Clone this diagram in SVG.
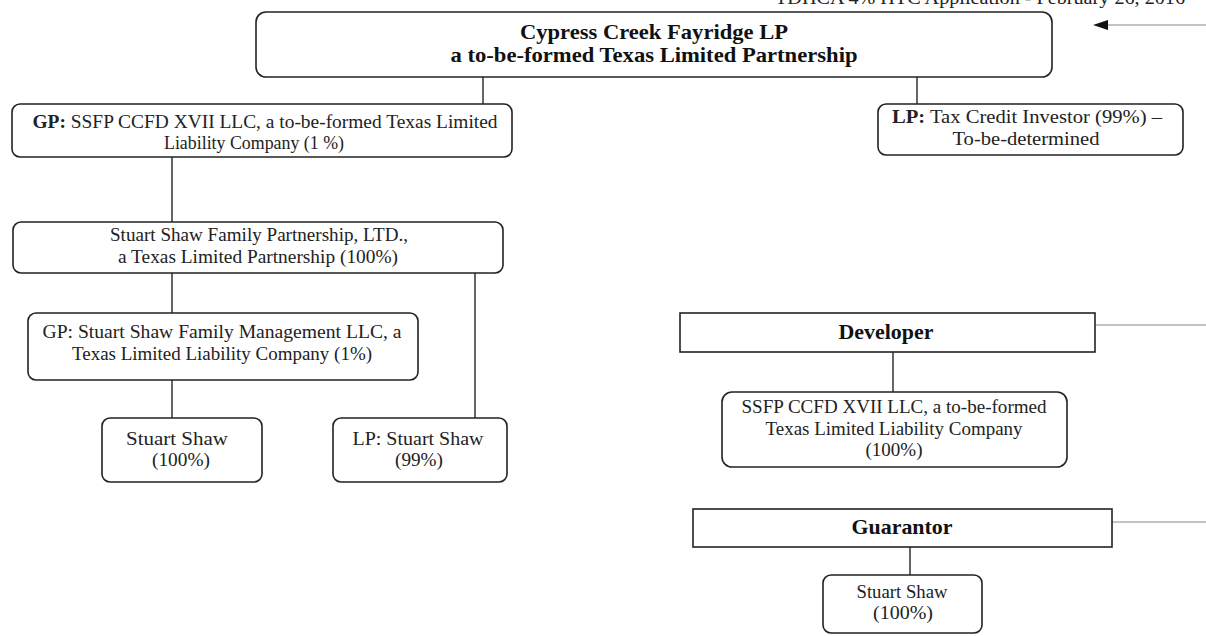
<svg xmlns="http://www.w3.org/2000/svg" width="1206" height="636" viewBox="0 0 1206 636">
<style>
.box{fill:#fff;stroke:#222;stroke-width:1.6}
.t{font-family:"Liberation Serif","Times New Roman",serif;font-size:19px;fill:#222;text-anchor:middle}
.b{font-weight:bold}
.title{font-family:"Liberation Serif","Times New Roman",serif;font-size:21px;font-weight:bold;fill:#111;text-anchor:middle}
.c{stroke:#333;stroke-width:1.5;fill:none}
.g{stroke:#888;stroke-width:1;fill:none}
</style>
<rect width="1206" height="636" fill="#fff"/>
<text class="t" x="980" y="4" textLength="410" lengthAdjust="spacingAndGlyphs">TDHCA 4% HTC Application - February 26, 2016</text>
<g id="connectors">
<line class="c" x1="483" y1="77" x2="483" y2="104"/>
<line class="c" x1="917" y1="77" x2="917" y2="104"/>
<line class="c" x1="172" y1="157" x2="172" y2="222"/>
<line class="c" x1="172" y1="273" x2="172" y2="313"/>
<line class="c" x1="475" y1="273" x2="475" y2="418"/>
<line class="c" x1="172" y1="380" x2="172" y2="418"/>
<line class="c" x1="893" y1="352" x2="893" y2="392"/>
<line class="c" x1="910" y1="547" x2="910" y2="575"/>
<line class="g" x1="1206" y1="25" x2="1106" y2="25"/>
<polygon points="1093,25 1108,20 1108,30" fill="#111"/>
<line class="g" x1="1095" y1="325" x2="1206" y2="325"/>
<line class="g" x1="1112" y1="522" x2="1206" y2="522"/>
</g>
<g id="top">
<rect class="box" x="256" y="12" width="796" height="65" rx="10"/>
<text class="title" x="654" y="39" textLength="268" lengthAdjust="spacingAndGlyphs">Cypress Creek Fayridge LP</text>
<text class="title" x="654" y="62" textLength="407" lengthAdjust="spacingAndGlyphs">a to-be-formed Texas Limited Partnership</text>
</g>
<g id="gp">
<rect class="box" x="12" y="104" width="500" height="53" rx="8"/>
<text class="t" x="265" y="128" textLength="465" lengthAdjust="spacingAndGlyphs"><tspan class="b">GP:</tspan>  SSFP CCFD XVII LLC, a to-be-formed Texas Limited</text>
<text class="t" x="254" y="149" textLength="180" lengthAdjust="spacingAndGlyphs">Liability Company (1 %)</text>
</g>
<g id="lp">
<rect class="box" x="878" y="104" width="305" height="51" rx="8"/>
<text class="t" x="1027" y="123" textLength="270" lengthAdjust="spacingAndGlyphs"><tspan class="b">LP:</tspan>  Tax Credit Investor (99%) –</text>
<text class="t" x="1026" y="145" textLength="147" lengthAdjust="spacingAndGlyphs">To-be-determined</text>
</g>
<g id="family">
<rect class="box" x="13" y="222" width="490" height="51" rx="8"/>
<text class="t" x="259" y="241" textLength="298" lengthAdjust="spacingAndGlyphs">Stuart Shaw Family Partnership, LTD.,</text>
<text class="t" x="258" y="263" textLength="280" lengthAdjust="spacingAndGlyphs">a Texas Limited Partnership (100%)</text>
</g>
<g id="mgmt">
<rect class="box" x="28" y="313" width="390" height="67" rx="8"/>
<text class="t" x="222" y="338" textLength="359" lengthAdjust="spacingAndGlyphs">GP:  Stuart Shaw Family Management LLC, a</text>
<text class="t" x="222" y="360" textLength="300" lengthAdjust="spacingAndGlyphs">Texas Limited Liability Company (1%)</text>
</g>
<g id="shaw1">
<rect class="box" x="102" y="418" width="160" height="64" rx="8"/>
<text class="t" x="177" y="445" textLength="102" lengthAdjust="spacingAndGlyphs">Stuart Shaw</text>
<text class="t" x="181" y="466" textLength="58" lengthAdjust="spacingAndGlyphs">(100%)</text>
</g>
<g id="shaw2">
<rect class="box" x="333" y="418" width="174" height="64" rx="8"/>
<text class="t" x="418" y="445" textLength="131" lengthAdjust="spacingAndGlyphs">LP:  Stuart Shaw</text>
<text class="t" x="419" y="466" textLength="48" lengthAdjust="spacingAndGlyphs">(99%)</text>
</g>
<g id="developer">
<rect class="box" x="680" y="313" width="415" height="39"/>
<text class="title" x="886" y="339" textLength="95" lengthAdjust="spacingAndGlyphs">Developer</text>
</g>
<g id="ssfp">
<rect class="box" x="722" y="392" width="345" height="75" rx="10"/>
<text class="t" x="894" y="413" textLength="305" lengthAdjust="spacingAndGlyphs">SSFP CCFD XVII LLC, a to-be-formed</text>
<text class="t" x="894" y="435" textLength="257" lengthAdjust="spacingAndGlyphs">Texas Limited Liability Company</text>
<text class="t" x="894" y="456" textLength="57" lengthAdjust="spacingAndGlyphs">(100%)</text>
</g>
<g id="guarantor">
<rect class="box" x="693" y="509" width="419" height="38"/>
<text class="title" x="902" y="534" textLength="101" lengthAdjust="spacingAndGlyphs">Guarantor</text>
</g>
<g id="shaw3">
<rect class="box" x="823" y="575" width="159" height="58" rx="8"/>
<text class="t" x="902" y="598" textLength="91" lengthAdjust="spacingAndGlyphs">Stuart Shaw</text>
<text class="t" x="903" y="619" textLength="60" lengthAdjust="spacingAndGlyphs">(100%)</text>
</g>
</svg>
